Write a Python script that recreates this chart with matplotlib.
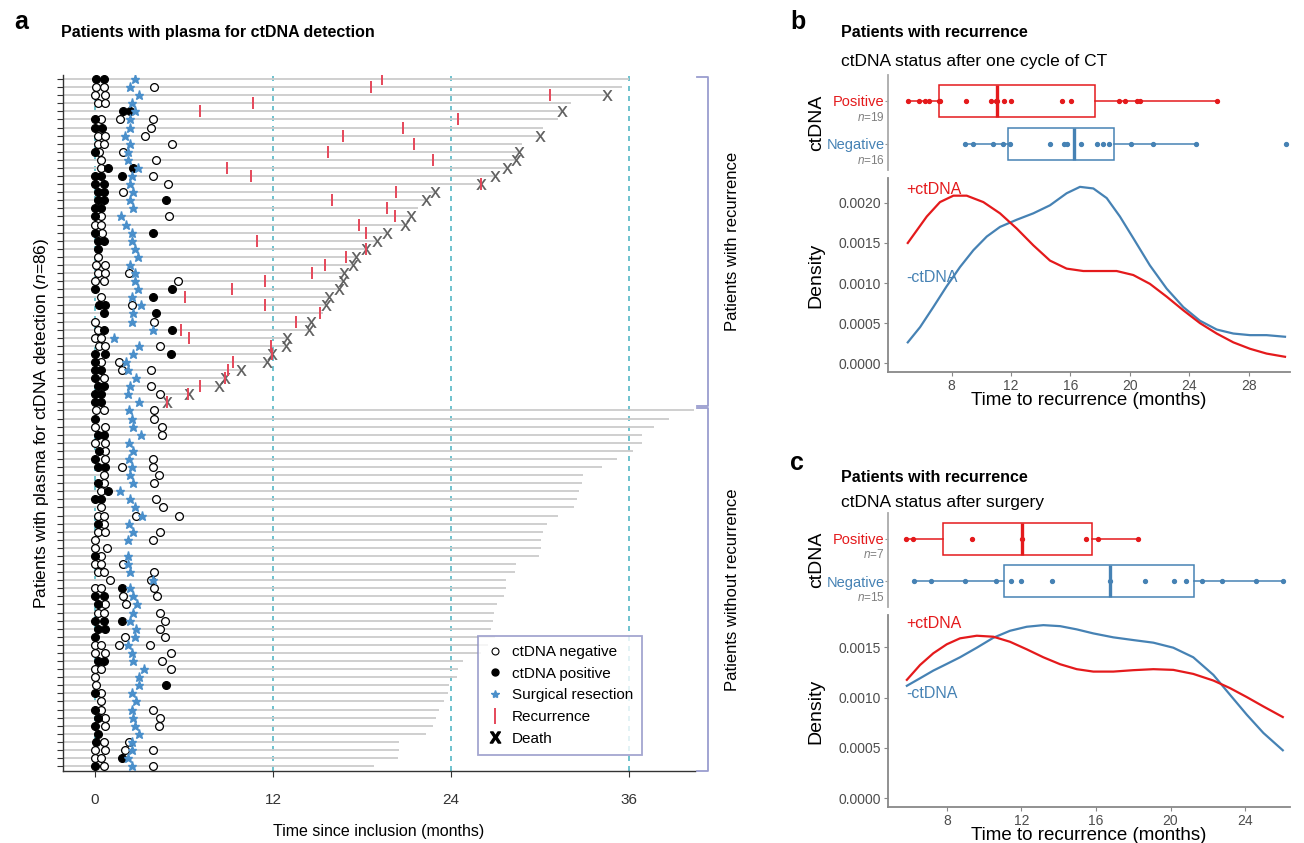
import numpy as np
import matplotlib.pyplot as plt
from matplotlib.lines import Line2D

plt.rcParams['font.family'] = ['Liberation Sans', 'DejaVu Sans']
plt.rcParams['mathtext.fontset'] = 'custom'
plt.rcParams['mathtext.rm'] = 'Liberation Sans'
plt.rcParams['mathtext.it'] = 'Liberation Sans:italic'
plt.rcParams['mathtext.bf'] = 'Liberation Sans:bold'

nan = np.nan

# ---------------- panel a: one entry per patient, top row first (months) ----------------
neg_pts = [[], [0.1, 0.6, 4.0], [0.0, 0.7], [0.2, 0.7], [], [0.4, 1.7, 3.9], [3.8],
           [0.2, 0.7, 3.4], [0.2, 0.6, 5.2], [0.3, 1.9], [0.4, 4.1], [0.4], [3.9], [4.9],
           [1.9], [], [], [0.4, 5.0], [0.0, 0.4], [0.5], [], [], [0.2], [0.1, 0.7],
           [0.2, 0.7, 2.3], [0.0, 0.6, 5.6], [], [0.4], [2.5], [], [0.0, 4.0], [0.2],
           [0.0, 0.4], [0.3, 0.7, 4.4], [], [0.4, 1.6], [1.8, 3.8], [0.6], [3.8], [4.4], [],
           [0.1, 0.6, 4.0], [4.0], [0.0, 0.7, 4.5], [4.5], [0.0, 0.7], [0.7], [0.7, 3.9],
           [1.8, 3.9], [0.6, 4.3], [0.6, 4.0], [0.4], [4.1], [0.4, 4.6], [0.2, 0.6, 2.8, 5.7],
           [0.6], [0.2, 0.7, 4.4], [0.0, 3.9], [0.0, 0.8], [0.4], [0.0, 0.4, 1.9],
           [0.2, 0.6, 4.0], [1.0, 3.8], [0.0, 0.4, 4.0], [1.9, 4.2], [0.7, 2.1],
           [0.2, 0.6, 4.4], [4.7], [4.4], [2.0, 4.7], [0.0, 0.4, 1.6, 3.7], [0.0, 0.7, 5.1],
           [4.5], [0.0, 0.4, 5.1], [0.0], [0.1], [0.4], [0.4], [0.4, 3.9], [0.7, 4.4],
           [0.7, 4.3], [], [0.6, 2.3], [0.0, 0.7, 2.0, 3.9], [0.0, 0.4], [0.6, 3.9]]
pos_pts = [[0.1, 0.6], [], [], [], [1.9, 2.4], [0.0], [0.0, 0.5], [], [], [0.0], [],
           [0.9, 2.6], [0.0, 0.4, 1.8], [0.0, 0.6], [0.2, 0.6], [0.2, 0.6, 4.8], [0.0, 0.4],
           [0.0], [], [0.0, 3.9], [0.2, 0.6], [0.2], [], [], [], [], [0.0, 5.2], [3.9],
           [0.3, 0.7], [0.6, 4.1], [], [0.6, 5.2], [], [], [0.0, 0.7, 5.1], [0.0], [0.0, 0.4],
           [0.0], [0.2, 0.6], [0.0, 0.4], [0.0, 0.4],
           [], [0.0], [], [0.2, 0.6], [], [0.3], [0.0], [0.2, 0.7], [], [0.2], [0.9],
           [0.0, 0.4], [], [], [0.2], [], [], [], [0.0], [], [], [], [1.8], [0.0, 0.6], [0.2],
           [], [0.0, 0.6, 1.8], [0.2, 0.7], [0.0], [], [], [0.2, 0.6], [], [], [4.8], [0.0],
           [], [0.0], [0.2], [0.0], [0.2], [0.1], [], [1.8], [0.0]]
surgery = [2.7, 2.4, 3.0, 2.5, 2.7, 2.4, 2.4, 2.0, 2.4, 2.2, 2.2, 2.9, 2.5, 2.4, 2.6, 2.4,
           2.6, 1.75, 2.1, 2.5, 2.5, 2.7, 2.9, 2.4, 2.7, 2.7, 2.9, 2.5, 3.1, 2.6, 2.5, 3.9,
           1.3, 3.0, 2.6, 2.1, 2.2, 2.8, 2.4, 2.2, 3.0,
           2.3, 2.5, 2.6, 3.1, 2.3, 2.6, 2.3, 2.5, 2.4, 2.6, 1.7, 2.4, 2.7, 3.2, 2.3, 2.6,
           2.2, nan, 2.2, 2.2, 2.4, 3.9, 2.4, 2.6, 2.85, 2.6, 2.4, 2.8, 2.7, 2.2, 2.5, 2.6,
           3.3, 3.0, 3.0, 2.5, 2.8, 2.5, 2.6, 2.7, 3.0, 2.5, 2.5, 2.2, 2.5]
recurrence = [19.35, 18.6, 30.7, 10.65, 7.1, 24.5, 20.8, 16.7, 21.5, 15.7, 22.8, 8.9, 10.5,
              26.0, 20.3, 16.0, 19.7, 20.2, 17.8, 18.25, 10.95, 18.3, 16.95, 15.5, 14.65,
              11.45, 9.25, 6.1, 11.45, 15.2, 13.55, 5.8, 6.35, 11.9, 11.95, 9.3, 8.95, 8.8,
              7.07, 6.3, 4.87] + [nan] * 45
death = [nan, nan, 34.5, nan, 31.5, nan, nan, 30.0, nan, 28.6, 28.4, 27.8, 27.0, 26.0,
         22.9, 22.3, nan, 21.3, 20.9, 19.7, 19.0, 18.3, 17.6, 17.4, 16.8, 16.7, 16.45,
         15.8, 15.55, nan, 14.55, 14.4, 12.95, 12.9, 11.95, 11.6, 9.85, 8.8, 8.35, 6.35,
         4.87] + [nan] * 45
followup = [36.0, 35.5, 34.5, 32.1, 31.5, 31.2, 30.2, 30.0, 28.8, 28.6, 28.4, 27.8, 27.0,
            26.0, 22.9, 22.3, 21.8, 21.3, 20.9, 19.7, 19.0, 18.3, 17.6, 17.4, 16.8, 16.7,
            16.45, 15.8, 15.55, 15.4, 14.55, 14.4, 12.95, 12.9, 11.95, 11.6, 9.85, 8.8,
            8.35, 6.35, 4.87,
            40.4, 38.7, 37.7, 36.9, 36.9, 36.3, 35.2, 34.2, 32.9, 32.8, 32.6, 32.5, 32.3,
            31.2, 30.5, 30.2, 30.1, 30.1, 29.9, 28.4, 28.3, 27.7, 27.7, 27.6, 27.1, 26.9,
            26.8, 26.7, 27.0, 26.5, 26.0, 24.8, 24.5, 24.4, 23.9, 23.8, 23.5, 23.2, 23.0,
            22.8, 22.3, 20.5, 20.5, 20.4, 18.8]
n_rec = 41
timeline_ticks = [0, 12, 24, 36]

# ---------------- panels b / c: time to recurrence (months) ----------------
b_pos = [5.04, 5.82, 6.2, 6.49, 7.13, 7.21, 8.96, 10.62, 11.0, 11.07, 11.52, 11.97,
         15.4, 16.03, 19.29, 19.67, 20.46, 20.68, 25.89]
b_neg = [8.9, 9.46, 10.76, 11.48, 11.93, 14.62, 15.58, 15.74, 16.71, 17.76, 18.21, 18.59,
         20.07, 21.53, 24.43, 30.51]
b_dens_x = [5.04, 6.32, 7.21, 8.11, 9.01, 10.13, 11.25, 12.38, 13.5, 14.62, 15.74, 16.86,
            17.99, 19.11, 20.23, 21.35, 22.48, 23.6, 24.72, 25.85, 26.97, 28.09, 29.21, 30.45]
b_dens_pos = [0.00150, 0.00183, 0.00201, 0.00209, 0.00209, 0.00201, 0.00187, 0.00168,
              0.00147, 0.00128, 0.00118, 0.00115, 0.00115, 0.00115, 0.00110, 0.00099,
              0.00083, 0.00066, 0.00050, 0.00037, 0.00026, 0.00018, 0.00012, 0.00008]
b_dens_neg_x = [5.04, 5.87, 6.76, 7.66, 8.56, 9.46, 10.36, 11.25, 12.38, 13.5, 14.62, 15.74,
                16.64, 17.54, 18.44, 19.33, 20.23, 21.35, 22.48, 23.6, 24.72, 25.85, 26.97,
                28.09, 29.21, 30.45]
b_dens_neg = [0.00026, 0.00045, 0.00070, 0.00096, 0.00120, 0.00141, 0.00158, 0.00170,
              0.00179, 0.00187, 0.00197, 0.00212, 0.00220, 0.00218, 0.00206, 0.00183,
              0.00156, 0.00122, 0.00093, 0.00070, 0.00053, 0.00042, 0.00037, 0.00035,
              0.00035, 0.00033]

c_pos = [5.82, 6.21, 9.34, 12.02, 15.45, 16.1, 18.27]
c_neg = [6.26, 7.16, 8.98, 10.64, 11.45, 11.97, 13.63, 16.76, 18.63, 20.19, 20.81, 21.67,
         22.75, 24.58, 26.02]
c_dens_x = [5.86, 6.57, 7.28, 8.0, 8.71, 9.61, 10.5, 11.39, 12.29, 13.18, 14.08, 14.97,
            15.86, 16.93, 18.0, 19.08, 20.15, 21.22, 22.3, 23.19, 24.09, 24.98, 26.02]
c_dens_pos = [0.001176, 0.001324, 0.00144, 0.001529, 0.001588, 0.001614, 0.001604,
              0.001554, 0.001479, 0.0014, 0.001331, 0.001282, 0.001258, 0.001258,
              0.001272, 0.001282, 0.001275, 0.001235, 0.001169, 0.001094, 0.001005,
              0.000912, 0.000807]
c_dens_neg = [0.001117, 0.001192, 0.001268, 0.001334, 0.0014, 0.001495, 0.001594,
              0.001663, 0.001703, 0.001719, 0.001709, 0.001677, 0.001637, 0.001598,
              0.001571, 0.001545, 0.001495, 0.0014, 0.001225, 0.001028, 0.00083,
              0.000649, 0.000477]

RED = '#e41a1c'
BLUE = '#4682b4'
TICK = '#4d4d4d'

fig = plt.figure(figsize=(13.04, 8.43), dpi=100)

# ================= panel a =================
ax = fig.add_axes([0.0483, 0.0854, 0.4847, 0.8256])
n = len(followup)
ys = np.arange(n)[::-1]
xmin, xmax = -2.15, 40.45
for t in timeline_ticks:
    ax.axvline(t, color='#55b7c6', lw=1.2, ls=(0, (3, 3)), zorder=1)
ax.hlines(ys, xmin, followup, color='#cccccc', lw=1.3, zorder=2)

for y, pts in zip(ys, neg_pts):
    ax.plot(pts, [y] * len(pts), ls='', marker='o', ms=5.6, mfc='white', mec='black',
            mew=0.9, zorder=4)
for y, pts in zip(ys, pos_pts):
    ax.plot(pts, [y] * len(pts), ls='', marker='o', ms=5.6, mfc='black', mec='black',
            mew=0.9, zorder=4)
ax.plot(surgery, ys, ls='', marker='*', ms=6.8, color='#4a8fca', zorder=5)
ax.plot(death, ys, ls='', marker=r'$\mathrm{X}$', ms=7.6, mew=0.3, color='#5a5a5a',
        zorder=5)
ax.plot(recurrence, ys, ls='', marker='|', ms=8.5, mew=1.4, color='#e5475a', zorder=6)

ax.set_xlim(xmin, xmax)
ax.set_ylim(-0.6, n - 0.5)
ax.set_xticks(timeline_ticks)
ax.set_yticks(ys)
ax.set_yticklabels([])
ax.tick_params(axis='y', length=4, width=0.8, color='#333333')
ax.tick_params(axis='x', length=4, width=0.8, color='#333333', labelsize=11,
               labelcolor='#333333', pad=12)
for s in ['top', 'right']:
    ax.spines[s].set_visible(False)
for s in ['left', 'bottom']:
    ax.spines[s].set_color('#333333')
    ax.spines[s].set_linewidth(1.0)
ax.set_xlabel('Time since inclusion (months)', fontsize=11.5, labelpad=12)
ax.set_ylabel(r'Patients with plasma for ctDNA detection ($\it{n}$=86)', fontsize=12.5,
              labelpad=1)

# brackets for the two groups
br = '#9a9dcf'
xb0, xb1 = 40.55, 41.35
top_r, bot_r = n - 1 + 0.25, n - n_rec - 0.4
top_n, bot_n = n - n_rec - 0.75, -0.6
for a, b in [(top_r, bot_r), (top_n, bot_n)]:
    ax.plot([xb0, xb1, xb1, xb0], [a, a, b, b], color=br, lw=1.3, clip_on=False)
ax.text(43.0, (top_r + bot_r) / 2, 'Patients with recurrence', rotation=90, va='center',
        ha='center', fontsize=12)
ax.text(43.0, (top_n + bot_n) / 2, 'Patients without recurrence', rotation=90,
        va='center', ha='center', fontsize=12)

handles = [
    Line2D([], [], ls='', marker='o', ms=5, mfc='white', mec='black', mew=0.8),
    Line2D([], [], ls='', marker='o', ms=5, mfc='black', mec='black'),
    Line2D([], [], ls='', marker='*', ms=6, color='#4a8fca'),
    Line2D([], [], ls='', marker='|', ms=11, mew=1.4, color='#e5475a'),
    Line2D([], [], ls='', marker=r'$\mathbf{X}$', ms=8, color='black'),
]
labels = ['ctDNA negative', 'ctDNA positive', 'Surgical resection', 'Recurrence', 'Death']
leg = ax.legend(handles, labels, loc='upper left', bbox_to_anchor=(0.3666, 0.2456),
                bbox_transform=fig.transFigure, fontsize=11, frameon=True,
                fancybox=False, handlelength=1.0, handletextpad=0.6, labelspacing=0.5,
                borderpad=0.6, borderaxespad=0)
leg.get_frame().set_edgecolor('#8d90c4')
leg.get_frame().set_linewidth(1.3)
leg.set_zorder(10)

fig.text(0.011, 0.974, 'a', fontsize=18, fontweight='bold', va='center')
fig.text(0.047, 0.961, 'Patients with plasma for ctDNA detection', fontsize=11.5,
         fontweight='bold', va='center')


# ================= panels b / c =================
def box_panel(axb, pos, neg, xlim):
    for vals, yy, col in [(pos, 2, RED), (neg, 1, BLUE)]:
        axb.boxplot([vals], positions=[yy], orientation='horizontal', widths=0.75,
                    showfliers=False, showcaps=False, patch_artist=True,
                    boxprops=dict(facecolor='white', edgecolor=col, linewidth=1.1),
                    whiskerprops=dict(color=col, linewidth=1.1),
                    medianprops=dict(color=col, linewidth=2.4))
        axb.plot(vals, [yy] * len(vals), ls='', marker='o', ms=2.8, color=col, zorder=5)
    axb.set_xlim(*xlim)
    axb.set_ylim(0.4, 2.6)
    axb.set_xticks([])
    axb.set_yticks([1, 2])
    axb.set_yticklabels([])
    axb.tick_params(axis='y', length=2, color='#999999')
    for s in ['top', 'right', 'bottom']:
        axb.spines[s].set_visible(False)
    axb.spines['left'].set_color('#aaaaaa')
    axb.spines['left'].set_linewidth(1.3)
    trans = axb.get_yaxis_transform()
    axb.text(-0.008, 1.97, 'Positive', color=RED, ha='right', va='center', fontsize=10.5,
             transform=trans)
    axb.text(-0.008, 1.62, r'$\it{n}$=%d' % len(pos), color='#7f7f7f', ha='right',
             va='center', fontsize=8.5, transform=trans)
    axb.text(-0.008, 0.97, 'Negative', color=BLUE, ha='right', va='center', fontsize=10.5,
             transform=trans)
    axb.text(-0.008, 0.62, r'$\it{n}$=%d' % len(neg), color='#7f7f7f', ha='right',
             va='center', fontsize=8.5, transform=trans)
    axb.set_ylabel('ctDNA', fontsize=14, labelpad=40)


def dens_panel(axd, xp, yp, xn, yn, xlim, ylim, yticks, xticks, lab_pos, lab_neg):
    axd.plot(xn, yn, color=BLUE, lw=1.6)
    axd.plot(xp, yp, color=RED, lw=1.6)
    axd.set_xlim(*xlim)
    axd.set_ylim(*ylim)
    axd.set_yticks(yticks)
    axd.set_yticklabels(['%.4f' % v for v in yticks])
    axd.set_xticks(xticks)
    axd.tick_params(length=3, color='#888888', labelsize=10, labelcolor=TICK, pad=2)
    for s in ['top', 'right']:
        axd.spines[s].set_visible(False)
    for s in ['left', 'bottom']:
        axd.spines[s].set_color('#888888')
        axd.spines[s].set_linewidth(1.3)
    axd.text(xlim[0] + 0.045 * (xlim[1] - xlim[0]), lab_pos, '+ctDNA', color=RED,
             fontsize=11.5, va='center')
    axd.text(xlim[0] + 0.045 * (xlim[1] - xlim[0]), lab_neg, '-ctDNA', color=BLUE,
             fontsize=11.5, va='center')
    axd.set_ylabel('Density', fontsize=14, labelpad=10)
    axd.set_xlabel('Time to recurrence (months)', fontsize=13.5, labelpad=-1)


# panel b
axb = fig.add_axes([0.681, 0.7983, 0.3083, 0.1127])
box_panel(axb, b_pos, b_neg, (3.71, 30.79))
axd = fig.add_axes([0.681, 0.5587, 0.3083, 0.2301])
dens_panel(axd, b_dens_x, b_dens_pos, b_dens_neg_x, b_dens_neg, (3.71, 30.79),
           (-0.00011, 0.00231), [0, 0.0005, 0.001, 0.0015, 0.002], [8, 12, 16, 20, 24, 28],
           0.00217, 0.00107)
fig.text(0.606, 0.974, 'b', fontsize=18, fontweight='bold', va='center')
fig.text(0.645, 0.961, 'Patients with recurrence', fontsize=11.5, fontweight='bold',
         va='center')
fig.text(0.645, 0.927, 'ctDNA status after one cycle of CT', fontsize=12.5, va='center')

# panel c
axb2 = fig.add_axes([0.681, 0.28, 0.3083, 0.1115])
box_panel(axb2, c_pos, c_neg, (4.85, 26.41))
axd2 = fig.add_axes([0.681, 0.0427, 0.3083, 0.2278])
dens_panel(axd2, c_dens_x, c_dens_pos, c_dens_x, c_dens_neg, (4.85, 26.41),
           (-0.000086, 0.00182), [0, 0.0005, 0.001, 0.0015], [8, 12, 16, 20, 24],
           0.00174, 0.00104)
fig.text(0.606, 0.451, 'c', fontsize=18, fontweight='bold', va='center')
fig.text(0.645, 0.434, 'Patients with recurrence', fontsize=11.5, fontweight='bold',
         va='center')
fig.text(0.645, 0.4045, 'ctDNA status after surgery', fontsize=12.5, va='center')

fig.savefig('out.png', dpi=100)
